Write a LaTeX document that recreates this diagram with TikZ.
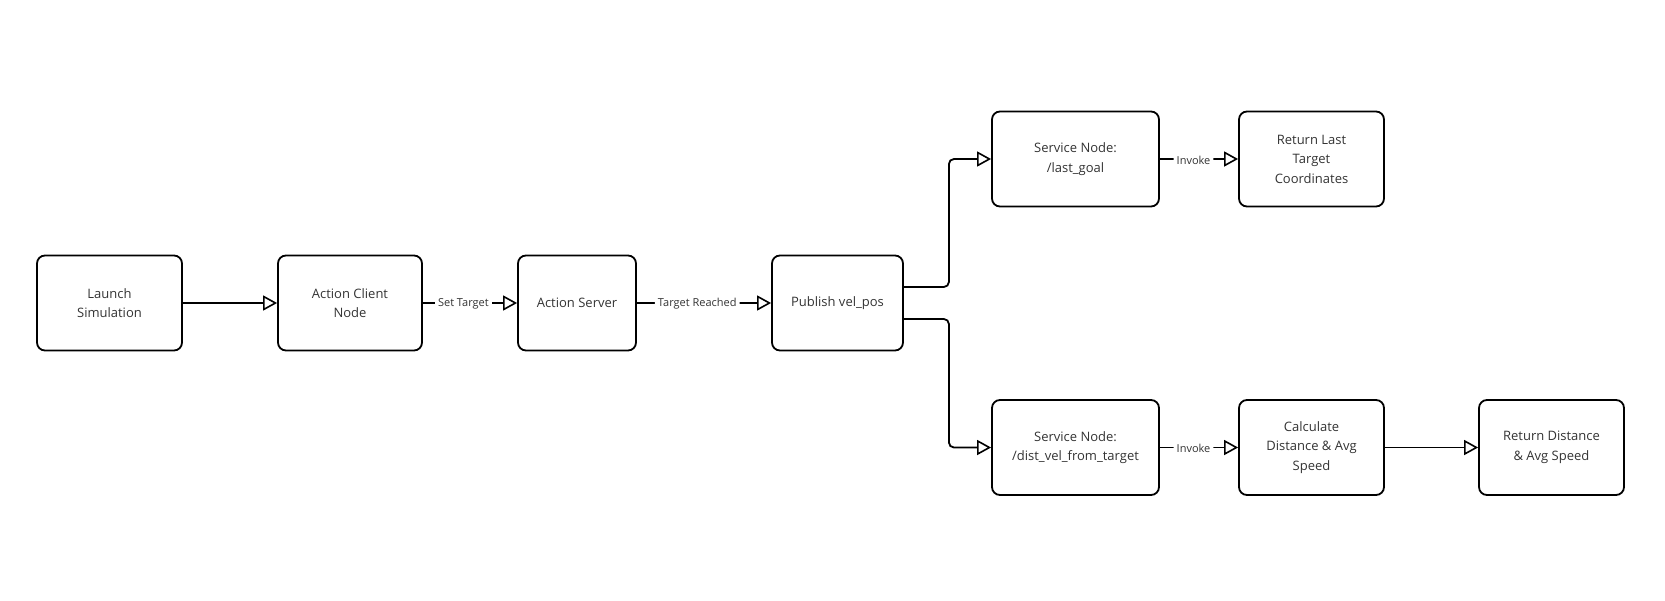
\documentclass[tikz,border=0pt]{standalone}
\usepackage{fontspec}
\setmainfont{Open Sans}
\usetikzlibrary{arrows.meta}

\begin{document}
\begin{tikzpicture}[x=1pt, y=-1pt,
    box/.style={draw, rounded corners=8pt, line width=1.8pt, align=center,
        minimum height=95pt, font=\fontsize{13}{19.5}\selectfont, text=black!80},
    link/.style={line width=1.8pt, rounded corners=5pt,
        -{Triangle[length=14pt, width=15pt, fill=white, line width=1.6pt]}},
    lbl/.style={fill=white, inner sep=3pt, yshift=-1pt, font=\fontsize{11}{13}\selectfont, text=black!80}]
    \useasboundingbox (0,0) rectangle (1665,600);

    % main row
    \node[box, minimum width=145pt] (launch)  at (109.5,303) {Launch\\Simulation};
    \node[box, minimum width=144pt] (client)  at (350,303)   {Action Client\\Node};
    \node[box, minimum width=118pt] (server)  at (577,303)   {Action Server};
    \node[box, minimum width=131pt] (publish) at (837.5,303) {Publish vel\_pos};

    % service branches
    \node[box, minimum width=167pt] (lastgoal) at (1075.5,159)   {Service Node:\\/last\_goal};
    \node[box, minimum width=145pt] (retlast)  at (1311.5,159)   {Return Last\\Target\\Coordinates};
    \node[box, minimum width=167pt] (distvel)  at (1075.5,447.5) {Service Node:\\/dist\_vel\_from\_target};
    \node[box, minimum width=145pt] (calc)     at (1311.5,447.5) {Calculate\\Distance \& Avg\\Speed};
    \node[box, minimum width=145pt] (retdist)  at (1551.5,447.5) {Return Distance\\\& Avg Speed};

    \draw[link] (launch) -- (client);
    \draw[link] (client) -- node[lbl, pos=0.43] {Set Target} (server);
    \draw[link] (server) -- node[lbl, pos=0.45] {Target Reached} (publish);
    \draw[link] ([yshift=16pt]publish.east) -- ++(45,0) |- (lastgoal.west);
    \draw[link] ([yshift=-16pt]publish.east) -- ++(45,0) |- (distvel.west);
    \draw[link] (lastgoal) -- node[lbl, pos=0.43] {Invoke} (retlast);
    \draw[link] (distvel) -- node[lbl, pos=0.43] {Invoke} (calc);
    \draw[link] (calc) -- (retdist);
\end{tikzpicture}
\end{document}
